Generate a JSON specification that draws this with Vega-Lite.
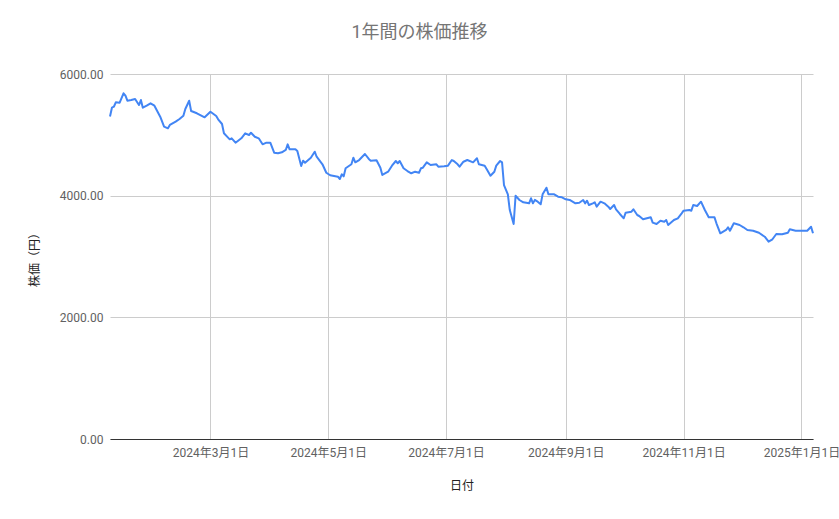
{
  "$schema": "https://vega.github.io/schema/vega-lite/v6.json",
  "width": 703,
  "height": 365,
  "autosize": {"type": "none"},
  "padding": {"left": 110, "top": 74, "right": 26, "bottom": 80},
  "background": "#ffffff",
  "title": {
    "text": "1年間の株価推移",
    "anchor": "middle",
    "frame": "group",
    "dx": -42,
    "offset": 26,
    "fontSize": 18,
    "font": "Roboto, Noto Sans CJK JP",
    "fontWeight": "normal",
    "color": "#757575"
  },
  "config": {
    "view": {"stroke": null},
    "axis": {
      "labelFont": "Roboto, Noto Sans CJK JP",
      "titleFont": "Roboto, Noto Sans CJK JP",
      "labelFontSize": 12,
      "titleFontSize": 12,
      "labelColor": "#616161",
      "titleColor": "#222222",
      "titleFontWeight": "normal",
      "gridColor": "#cccccc",
      "gridWidth": 1,
      "ticks": false
    }
  },
  "data": {
    "values": [
      {"date": "2024-01-09", "price": 5300},
      {"date": "2024-01-10", "price": 5446},
      {"date": "2024-01-11", "price": 5462},
      {"date": "2024-01-12", "price": 5535},
      {"date": "2024-01-14", "price": 5528},
      {"date": "2024-01-16", "price": 5683},
      {"date": "2024-01-17", "price": 5643},
      {"date": "2024-01-18", "price": 5561},
      {"date": "2024-01-20", "price": 5572},
      {"date": "2024-01-22", "price": 5589},
      {"date": "2024-01-24", "price": 5490},
      {"date": "2024-01-25", "price": 5572},
      {"date": "2024-01-26", "price": 5446},
      {"date": "2024-01-28", "price": 5479},
      {"date": "2024-01-30", "price": 5518},
      {"date": "2024-02-01", "price": 5479},
      {"date": "2024-02-04", "price": 5298},
      {"date": "2024-02-06", "price": 5134},
      {"date": "2024-02-08", "price": 5107},
      {"date": "2024-02-09", "price": 5162},
      {"date": "2024-02-12", "price": 5216},
      {"date": "2024-02-14", "price": 5260},
      {"date": "2024-02-16", "price": 5314},
      {"date": "2024-02-17", "price": 5425},
      {"date": "2024-02-19", "price": 5561},
      {"date": "2024-02-20", "price": 5392},
      {"date": "2024-02-23", "price": 5354},
      {"date": "2024-02-27", "price": 5288},
      {"date": "2024-03-01", "price": 5380},
      {"date": "2024-03-04", "price": 5309},
      {"date": "2024-03-05", "price": 5255},
      {"date": "2024-03-07", "price": 5178},
      {"date": "2024-03-08", "price": 5025},
      {"date": "2024-03-10", "price": 4959},
      {"date": "2024-03-11", "price": 4926},
      {"date": "2024-03-12", "price": 4943},
      {"date": "2024-03-14", "price": 4871},
      {"date": "2024-03-17", "price": 4943},
      {"date": "2024-03-19", "price": 5025},
      {"date": "2024-03-21", "price": 4997},
      {"date": "2024-03-22", "price": 5035},
      {"date": "2024-03-24", "price": 4969},
      {"date": "2024-03-26", "price": 4943},
      {"date": "2024-03-28", "price": 4844},
      {"date": "2024-03-30", "price": 4871},
      {"date": "2024-04-01", "price": 4871},
      {"date": "2024-04-03", "price": 4706},
      {"date": "2024-04-05", "price": 4696},
      {"date": "2024-04-07", "price": 4713},
      {"date": "2024-04-09", "price": 4751},
      {"date": "2024-04-10", "price": 4844},
      {"date": "2024-04-11", "price": 4762},
      {"date": "2024-04-14", "price": 4762},
      {"date": "2024-04-15", "price": 4734},
      {"date": "2024-04-17", "price": 4488},
      {"date": "2024-04-18", "price": 4575},
      {"date": "2024-04-19", "price": 4542},
      {"date": "2024-04-22", "price": 4624},
      {"date": "2024-04-24", "price": 4723},
      {"date": "2024-04-25", "price": 4640},
      {"date": "2024-04-28", "price": 4516},
      {"date": "2024-04-30", "price": 4377},
      {"date": "2024-05-02", "price": 4335},
      {"date": "2024-05-06", "price": 4312},
      {"date": "2024-05-07", "price": 4274},
      {"date": "2024-05-08", "price": 4351},
      {"date": "2024-05-09", "price": 4318},
      {"date": "2024-05-10", "price": 4450},
      {"date": "2024-05-13", "price": 4516},
      {"date": "2024-05-14", "price": 4624},
      {"date": "2024-05-15", "price": 4548},
      {"date": "2024-05-17", "price": 4586},
      {"date": "2024-05-20", "price": 4685},
      {"date": "2024-05-22", "price": 4603},
      {"date": "2024-05-23", "price": 4575},
      {"date": "2024-05-26", "price": 4581},
      {"date": "2024-05-28", "price": 4460},
      {"date": "2024-05-29", "price": 4340},
      {"date": "2024-06-01", "price": 4394},
      {"date": "2024-06-03", "price": 4493},
      {"date": "2024-06-05", "price": 4570},
      {"date": "2024-06-06", "price": 4532},
      {"date": "2024-06-07", "price": 4570},
      {"date": "2024-06-09", "price": 4450},
      {"date": "2024-06-11", "price": 4405},
      {"date": "2024-06-13", "price": 4368},
      {"date": "2024-06-15", "price": 4394},
      {"date": "2024-06-17", "price": 4377},
      {"date": "2024-06-18", "price": 4450},
      {"date": "2024-06-19", "price": 4460},
      {"date": "2024-06-21", "price": 4548},
      {"date": "2024-06-23", "price": 4504},
      {"date": "2024-06-26", "price": 4516},
      {"date": "2024-06-27", "price": 4476},
      {"date": "2024-06-30", "price": 4483},
      {"date": "2024-07-02", "price": 4493},
      {"date": "2024-07-04", "price": 4586},
      {"date": "2024-07-05", "price": 4570},
      {"date": "2024-07-07", "price": 4516},
      {"date": "2024-07-08", "price": 4476},
      {"date": "2024-07-10", "price": 4558},
      {"date": "2024-07-12", "price": 4586},
      {"date": "2024-07-15", "price": 4548},
      {"date": "2024-07-17", "price": 4614},
      {"date": "2024-07-18", "price": 4516},
      {"date": "2024-07-21", "price": 4493},
      {"date": "2024-07-22", "price": 4438},
      {"date": "2024-07-24", "price": 4328},
      {"date": "2024-07-26", "price": 4394},
      {"date": "2024-07-27", "price": 4493},
      {"date": "2024-07-29", "price": 4570},
      {"date": "2024-07-30", "price": 4548},
      {"date": "2024-07-31", "price": 4175},
      {"date": "2024-08-02", "price": 4022},
      {"date": "2024-08-03", "price": 3764},
      {"date": "2024-08-05", "price": 3534},
      {"date": "2024-08-06", "price": 3999},
      {"date": "2024-08-08", "price": 3929},
      {"date": "2024-08-10", "price": 3891},
      {"date": "2024-08-13", "price": 3874},
      {"date": "2024-08-14", "price": 3957},
      {"date": "2024-08-15", "price": 3874},
      {"date": "2024-08-16", "price": 3931},
      {"date": "2024-08-17", "price": 3912},
      {"date": "2024-08-19", "price": 3858},
      {"date": "2024-08-20", "price": 4022},
      {"date": "2024-08-22", "price": 4131},
      {"date": "2024-08-23", "price": 4022},
      {"date": "2024-08-26", "price": 4022},
      {"date": "2024-08-28", "price": 3983},
      {"date": "2024-08-30", "price": 3973},
      {"date": "2024-09-01", "price": 3940},
      {"date": "2024-09-03", "price": 3929},
      {"date": "2024-09-06", "price": 3874},
      {"date": "2024-09-08", "price": 3884},
      {"date": "2024-09-10", "price": 3929},
      {"date": "2024-09-11", "price": 3874},
      {"date": "2024-09-12", "price": 3917},
      {"date": "2024-09-13", "price": 3846},
      {"date": "2024-09-15", "price": 3874},
      {"date": "2024-09-16", "price": 3891},
      {"date": "2024-09-17", "price": 3819},
      {"date": "2024-09-19", "price": 3901},
      {"date": "2024-09-21", "price": 3874},
      {"date": "2024-09-23", "price": 3819},
      {"date": "2024-09-24", "price": 3781},
      {"date": "2024-09-26", "price": 3846},
      {"date": "2024-09-27", "price": 3776},
      {"date": "2024-09-29", "price": 3699},
      {"date": "2024-10-01", "price": 3628},
      {"date": "2024-10-02", "price": 3720},
      {"date": "2024-10-05", "price": 3736},
      {"date": "2024-10-06", "price": 3776},
      {"date": "2024-10-08", "price": 3682},
      {"date": "2024-10-09", "price": 3666},
      {"date": "2024-10-11", "price": 3611},
      {"date": "2024-10-13", "price": 3628},
      {"date": "2024-10-15", "price": 3644},
      {"date": "2024-10-16", "price": 3556},
      {"date": "2024-10-18", "price": 3534},
      {"date": "2024-10-20", "price": 3588},
      {"date": "2024-10-22", "price": 3572},
      {"date": "2024-10-23", "price": 3600},
      {"date": "2024-10-24", "price": 3518},
      {"date": "2024-10-27", "price": 3600},
      {"date": "2024-10-29", "price": 3628},
      {"date": "2024-10-31", "price": 3710},
      {"date": "2024-11-01", "price": 3753},
      {"date": "2024-11-04", "price": 3764},
      {"date": "2024-11-05", "price": 3753},
      {"date": "2024-11-06", "price": 3846},
      {"date": "2024-11-08", "price": 3830},
      {"date": "2024-11-10", "price": 3901},
      {"date": "2024-11-12", "price": 3764},
      {"date": "2024-11-14", "price": 3644},
      {"date": "2024-11-17", "price": 3644},
      {"date": "2024-11-18", "price": 3546},
      {"date": "2024-11-20", "price": 3381},
      {"date": "2024-11-23", "price": 3436},
      {"date": "2024-11-24", "price": 3480},
      {"date": "2024-11-25", "price": 3424},
      {"date": "2024-11-27", "price": 3546},
      {"date": "2024-11-30", "price": 3518},
      {"date": "2024-12-02", "price": 3480},
      {"date": "2024-12-04", "price": 3436},
      {"date": "2024-12-07", "price": 3424},
      {"date": "2024-12-10", "price": 3391},
      {"date": "2024-12-13", "price": 3325},
      {"date": "2024-12-15", "price": 3243},
      {"date": "2024-12-17", "price": 3283},
      {"date": "2024-12-19", "price": 3370},
      {"date": "2024-12-22", "price": 3365},
      {"date": "2024-12-25", "price": 3391},
      {"date": "2024-12-26", "price": 3447},
      {"date": "2024-12-29", "price": 3424},
      {"date": "2025-01-01", "price": 3424},
      {"date": "2025-01-04", "price": 3424},
      {"date": "2025-01-06", "price": 3490},
      {"date": "2025-01-07", "price": 3381}
    ]
  },
  "mark": {"type": "line", "color": "#4285f4", "strokeWidth": 2, "strokeJoin": "round"},
  "encoding": {
    "x": {
      "field": "date",
      "type": "temporal",
      "scale": {"type": "utc", "nice": false},
      "axis": {
        "title": "日付",
        "format": "%Y年%-m月%-d日",
        "tickCount": {"interval": "month", "step": 2},
        "labelPadding": 8,
        "titlePadding": 22,
        "domain": true,
        "domainColor": "#333333",
        "domainWidth": 1,
        "grid": true,
        "labelOverlap": false,
        "labelFlush": false
      }
    },
    "y": {
      "field": "price",
      "type": "quantitative",
      "scale": {"domain": [0, 6000], "nice": false},
      "axis": {
        "title": "株価（円）",
        "format": ".2f",
        "values": [0, 2000, 4000, 6000],
        "domain": false,
        "labelPadding": 7,
        "titlePadding": 18,
        "grid": true
      }
    }
  }
}
